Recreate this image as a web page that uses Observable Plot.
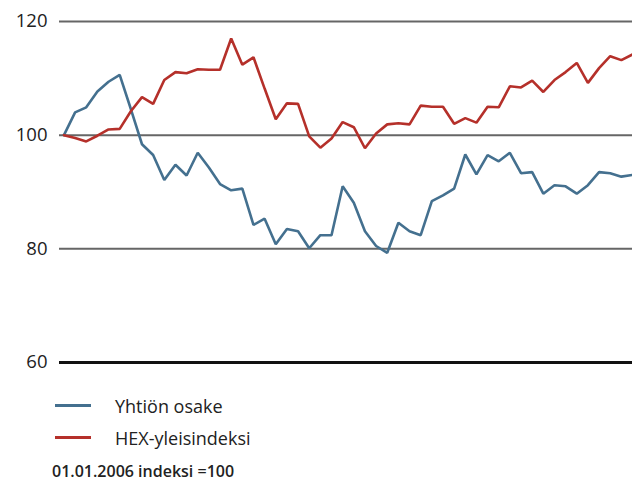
<!DOCTYPE html>
<html>
<head>
<meta charset="utf-8">
<script src="https://cdn.jsdelivr.net/npm/d3@7"></script>
<script src="https://cdn.jsdelivr.net/npm/@observablehq/plot@0.6"></script>
<style>
  body { margin: 0; background: #fff; font-family: "Open Sans", sans-serif; }
  #wrap { position: relative; width: 632px; height: 483px; overflow: hidden; }
  .row { position: absolute; left: 0; height: 26px; }
  .sw { position: absolute; left: 55px; top: 11px; width: 36px; height: 3px; }
  .lab { position: absolute; left: 115px; top: 0; font-size: 18px; color: #222; white-space: nowrap; line-height: 26px; }
  .note { position: absolute; left: 52px; top: 460px; font-size: 16px; font-weight: 600; color: #222; white-space: nowrap; line-height: normal; }
</style>
</head>
<body>
<div id="wrap">
  <div id="chart"></div>
  <div class="row" style="top:393px"><div class="sw" style="background:#44708f"></div><div class="lab">Yhtiön osake</div></div>
  <div class="row" style="top:425px"><div class="sw" style="background:#b5302a"></div><div class="lab">HEX-yleisindeksi</div></div>
  <div class="note">01.01.2006 indeksi =100</div>
</div>
<script>
const seriesNames = ["Yhtiön osake", "HEX-yleisindeksi"];
const osake = [100, 104.0, 104.9, 107.7, 109.4, 110.6, 104.6, 98.4, 96.5, 92.1, 94.8, 92.9, 96.9, 94.3, 91.4, 90.3, 90.6,
  84.2, 85.3, 80.8, 83.5, 83.1, 80.1, 82.4, 82.4, 91.0, 88.1, 83.1, 80.5, 79.3, 84.6, 83.1, 82.4, 88.4,
  89.4, 90.6, 96.6, 93.1, 96.5, 95.4, 96.9, 93.3, 93.5, 89.7, 91.2, 91.0, 89.7, 91.2, 93.5, 93.3, 92.7, 93.0];
const hex = [100, 99.5, 98.9, 99.9, 101.0, 101.1, 104.2, 106.7, 105.5, 109.7, 111.1, 110.9, 111.6, 111.5, 111.5, 117.0, 112.4,
  113.7, 108.2, 102.8, 105.6, 105.5, 99.8, 97.8, 99.4, 102.3, 101.4, 97.7, 100.3, 101.9, 102.1, 101.9, 105.2, 105.0,
  105.0, 102.0, 103.0, 102.2, 105.0, 104.9, 108.6, 108.4, 109.6, 107.6, 109.7, 111.1, 112.7, 109.2, 111.8, 113.9, 113.2, 114.2];
const yTicks = [60, 80, 100, 120];
const gridTicks = [80, 100, 120];

const data = [
  ...osake.map((v, i) => ({i, v, s: seriesNames[0]})),
  ...hex.map((v, i) => ({i, v, s: seriesNames[1]}))
];

const chart = Plot.plot({
  width: 632,
  height: 372,
  marginTop: 21,
  marginBottom: 10,
  marginLeft: 59,
  marginRight: 0,
  style: {fontFamily: "'Open Sans', sans-serif", fontSize: "18.5px", color: "#222", background: "#fff"},
  x: {domain: [-0.4, osake.length - 1], axis: null},
  y: {domain: [60, 120], axis: null},
  color: {domain: seriesNames, range: ["#44708f", "#b5302a"]},
  marks: [
    Plot.ruleY(gridTicks, {stroke: "#666", strokeWidth: 2}),
    Plot.ruleY([60], {stroke: "#111", strokeWidth: 3}),
    Plot.axisY({ticks: yTicks, tickSize: 0, tickPadding: 12, label: null, fontSize: 18.5, fill: "#222"}),
    Plot.line(data, {x: "i", y: "v", z: "s", stroke: "s", strokeWidth: 2.6, strokeLinejoin: "miter"})
  ]
});
document.getElementById("chart").appendChild(chart);
</script>
</body>
</html>
